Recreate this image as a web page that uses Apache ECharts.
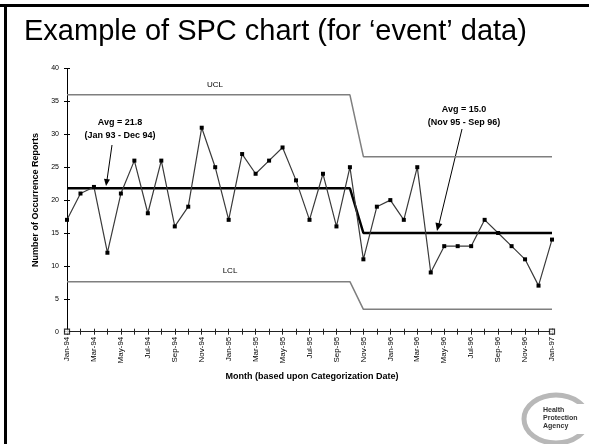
<!DOCTYPE html>
<html>
<head>
<meta charset="utf-8">
<script src="https://cdn.jsdelivr.net/npm/echarts@6/dist/echarts.min.js"></script>
<style>
html,body{margin:0;padding:0;background:#fff;}
#c{width:589px;height:444px;}
</style>
</head>
<body>
<div id="c"></div>
<script>
var months = ['Jan-94','Feb-94','Mar-94','Apr-94','May-94','Jun-94','Jul-94','Aug-94','Sep-94','Oct-94','Nov-94','Dec-94',
  'Jan-95','Feb-95','Mar-95','Apr-95','May-95','Jun-95','Jul-95','Aug-95','Sep-95','Oct-95','Nov-95','Dec-95',
  'Jan-96','Feb-96','Mar-96','Apr-96','May-96','Jun-96','Jul-96','Aug-96','Sep-96','Oct-96','Nov-96','Dec-96','Jan-97'];
var reports = [17,21,22,12,21,26,18,26,16,19,31,25, 17,27,24,26,28,23,17,24,16,25,11,19, 20,17,25,9,13,13,13,17,15,13,11,7,14];
var ucl = [36,36,36,36,36,36,36,36,36,36,36,36, 36,36,36,36,36,36,36,36,36,36,26.6,26.6, 26.6,26.6,26.6,26.6,26.6,26.6,26.6,26.6,26.6,26.6,26.6,26.6,26.6];
var avg = [21.8,21.8,21.8,21.8,21.8,21.8,21.8,21.8,21.8,21.8,21.8,21.8, 21.8,21.8,21.8,21.8,21.8,21.8,21.8,21.8,21.8,21.8,15,15, 15,15,15,15,15,15,15,15,15,15,15,15,15];
var lcl = [7.6,7.6,7.6,7.6,7.6,7.6,7.6,7.6,7.6,7.6,7.6,7.6, 7.6,7.6,7.6,7.6,7.6,7.6,7.6,7.6,7.6,7.6,3.4,3.4, 3.4,3.4,3.4,3.4,3.4,3.4,3.4,3.4,3.4,3.4,3.4,3.4,3.4];
var endMarks = [[months[0],0],[months[36],0]];
var yTicks = {min:0, max:40, interval:5};

var FONT = 'Liberation Sans, Arial, sans-serif';
var chart = echarts.init(document.getElementById('c'), null, {renderer:'canvas'});
chart.setOption({
  animation:false,
  backgroundColor:'#fff',
  grid:{left:67, right:37, top:68.5, bottom:112.3, containLabel:false},
  xAxis:[{
    type:'category', data:months, boundaryGap:false, position:'bottom',
    axisLine:{lineStyle:{color:'#222', width:1}},
    axisTick:{show:true, interval:0, length:3, lineStyle:{color:'#222'}},
    axisLabel:{interval:1, rotate:90, fontSize:8, fontFamily:FONT, color:'#000', margin:5},
    splitLine:{show:false}
  },{
    type:'category', data:months, boundaryGap:false, position:'bottom',
    axisLine:{show:false},
    axisTick:{show:true, inside:true, interval:0, length:3, lineStyle:{color:'#222'}},
    axisLabel:{show:false}, splitLine:{show:false}
  }],
  yAxis:[{
    type:'value', min:yTicks.min, max:yTicks.max, interval:yTicks.interval,
    axisLine:{show:true, lineStyle:{color:'#000', width:1}},
    axisTick:{show:true, length:3, lineStyle:{color:'#000'}},
    axisLabel:{fontSize:7, fontFamily:FONT, color:'#000', margin:8},
    splitLine:{show:false},
    name:'Number of Occurrence Reports', nameLocation:'middle', nameGap:27,
    nameTextStyle:{fontSize:9, fontWeight:'bold', fontFamily:FONT, color:'#000'}
  },{
    type:'value', min:yTicks.min, max:yTicks.max, interval:yTicks.interval, position:'left',
    axisLine:{show:false},
    axisTick:{show:true, inside:true, length:3, lineStyle:{color:'#000'}},
    axisLabel:{show:false}, splitLine:{show:false}
  }],
  series:[
    {name:'UCL', type:'line', data:ucl, symbol:'none', lineStyle:{color:'#7f7f7f', width:1.5}, silent:true},
    {name:'LCL', type:'line', data:lcl, symbol:'none', lineStyle:{color:'#7f7f7f', width:1.5}, silent:true},
    {name:'Avg', type:'line', data:avg, symbol:'none', lineStyle:{color:'#000', width:2.5}, silent:true},
    {name:'Reports', type:'line', data:reports, symbol:'rect', symbolSize:4, showSymbol:true,
      itemStyle:{color:'#000'}, lineStyle:{color:'#3a3a3a', width:1.2}, z:5},
    {name:'ends', type:'scatter', data:endMarks, symbol:'rect', symbolSize:5,
      itemStyle:{color:'#fff', borderColor:'#000', borderWidth:1.2}, z:6}
  ],
  graphic:[
    {type:'rect', shape:{x:0, y:4, width:589, height:3}, style:{fill:'#000'}},
    {type:'rect', shape:{x:4, y:4, width:3, height:440}, style:{fill:'#000'}},
    {type:'text', left:24, top:17, style:{text:'Example of SPC chart (for \u2018event\u2019 data)', font:'29px Liberation Sans, Arial, sans-serif', fill:'#000'}},
    {type:'text', x:215, y:85, style:{text:'UCL', font:'8px Liberation Sans, Arial, sans-serif', fill:'#000', align:'center', verticalAlign:'middle'}},
    {type:'text', x:230, y:271, style:{text:'LCL', font:'8px Liberation Sans, Arial, sans-serif', fill:'#000', align:'center', verticalAlign:'middle'}},
    {type:'text', x:120, y:129, style:{text:'Avg = 21.8\n(Jan 93 - Dec 94)', font:'bold 9px Liberation Sans, Arial, sans-serif', fill:'#000', align:'center', verticalAlign:'middle', lineHeight:13}},
    {type:'line', shape:{x1:112, y1:145, x2:107, y2:180}, style:{stroke:'#000', lineWidth:1}},
    {type:'polygon', shape:{points:[[110,179.5],[104,178.7],[106,186]]}, style:{fill:'#000'}},
    {type:'text', x:464, y:116, style:{text:'Avg = 15.0\n(Nov 95 - Sep 96)', font:'bold 9px Liberation Sans, Arial, sans-serif', fill:'#000', align:'center', verticalAlign:'middle', lineHeight:13}},
    {type:'line', shape:{x1:462, y1:129, x2:439, y2:224}, style:{stroke:'#000', lineWidth:1}},
    {type:'polygon', shape:{points:[[442.3,224.1],[435.5,222.4],[437,231]]}, style:{fill:'#000'}},
    {type:'text', x:312, y:377, style:{text:'Month (based upon Categorization Date)', font:'bold 9px Liberation Sans, Arial, sans-serif', fill:'#000', align:'center', verticalAlign:'middle'}},
    {type:'ellipse', shape:{cx:556, cy:419, rx:32, ry:24}, style:{fill:'none', stroke:'#b8b8b8', lineWidth:5}},
    {type:'rect', shape:{x:540, y:404, width:49, height:30}, style:{fill:'#fff'}},
    {type:'text', x:543, y:418, style:{text:'Health\nProtection\nAgency', font:'bold 7px Liberation Sans, Arial, sans-serif', fill:'#333', align:'left', verticalAlign:'middle', lineHeight:8}}
  ]
});
</script>
</body>
</html>
